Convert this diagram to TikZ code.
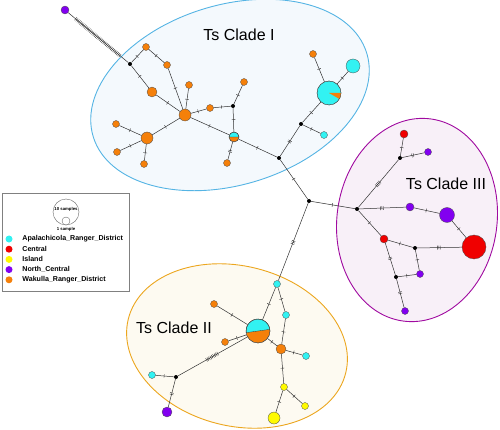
\documentclass[tikz,border=0pt]{standalone}
\usepackage{fontspec}
\setmainfont{Liberation Sans}
\usetikzlibrary{positioning}
\definecolor{apa}{RGB}{50,242,242}
\definecolor{cen}{RGB}{240,0,0}
\definecolor{isl}{RGB}{255,250,0}
\definecolor{nor}{RGB}{130,0,240}
\definecolor{wak}{RGB}{245,128,10}
\definecolor{edgegray}{RGB}{50,50,50}
\newcommand{\mutticks}[1]{\foreach \k in {1,...,#1}{\rule{0.4pt}{3.8pt}\hspace{1.2pt}}\hspace{-1.2pt}}
\tikzset{
  hap/.style={circle, draw=gray!60!black, line width=0.3pt, inner sep=0pt, minimum size=#1},
  mv/.style={circle, fill=black, inner sep=0pt, minimum size=4pt},
  edge/.style={draw=edgegray, line width=0.5pt},
  mut/.style={sloped, inner sep=0pt, text=edgegray},
  clade/.style={line width=0.9pt},
  cladelabel/.style={font=\fontsize{16}{18}\selectfont},
  legdot/.style={circle, inner sep=0pt, minimum size=7pt},
  legtext/.style={inner sep=0pt, font=\fontsize{7.1}{8}\selectfont\bfseries},
  legsmall/.style={inner sep=0pt, font=\fontsize{4.3}{5}\selectfont\bfseries}
}
\begin{document}
\begin{tikzpicture}[x=1pt, y=1pt]
  \useasboundingbox (0,-430) rectangle (500,0);
  % Clados
  \draw[clade, draw={rgb,255:red,85;green,180;blue,228}, fill={rgb,255:red,244;green,249;blue,253},
    rotate around={17:(230,-95)}] (230,-95) ellipse[x radius=143, y radius=90];
  \draw[clade, draw={rgb,255:red,160;green,10;blue,160}, fill={rgb,255:red,248;green,240;blue,248},
    rotate around={-8:(417,-220)}] (417,-220) ellipse[x radius=80, y radius=102];
  \draw[clade, draw={rgb,255:red,236;green,166;blue,30}, fill={rgb,255:red,253;green,250;blue,241},
    rotate around={-14:(237,-346)}] (237,-346) ellipse[x radius=112, y radius=80];
  \node[cladelabel] (labI) at (239,-35) {Ts Clade I};
  \node[cladelabel] (labIII) at (446,-184) {Ts Clade III};
  \node[cladelabel] (labII) at (174,-328) {Ts Clade II};
  % Haplotipos
  \foreach \n/\x/\y/\s/\c in {
    p1/65/-10/8pt/nor, o1/146/-47/7pt/wak, o2/167/-65/7pt/wak, o3/152/-92/10pt/wak,
    o4/189/-85/7pt/wak, h1/185/-115/12pt/wak, o5/210/-108/7pt/wak, o6/244/-82/7pt/wak,
    hc1/234/-137/10pt/wak, o7/227/-163/7pt/wak, h2/147/-138/12pt/wak, o8/116/-124/7pt/wak,
    o9/117/-152/7pt/wak, o10/144/-164/7pt/wak, c3/324/-135/7pt/apa, cb/329/-93/24pt/apa,
    c2/353/-66/14pt/apa, o11/313/-54/7pt/wak, r1/404/-134/8pt/cen, p2/428/-152/7pt/nor,
    p3/410/-207/8pt/nor, p4/447/-215/15pt/nor, r2/474/-247/24pt/cen, r3/384/-239/8pt/cen,
    p5/420/-274/7pt/nor, p6/405/-311/7pt/nor, c4/277/-284/7pt/apa, hc2/258/-331/24pt/wak,
    c5/286/-315/7pt/apa, o12/281/-349/10pt/wak, c6/306/-356/7pt/apa, y1/284/-387/7pt/isl,
    y2/305/-406/7pt/isl, y3/274/-418/12pt/isl, o13/214/-304/7pt/wak, o14/225/-342/7pt/wak,
    c7/152/-375/7pt/apa, p7/167/-412/10pt/nor}
    \node[hap=\s, fill=\c] (\n) at (\x,\y) {};
  % Fatias
  \fill[wak] (cb.center) -- +(0:12pt) arc[start angle=0, end angle=-30, radius=12pt] -- cycle;
  \draw[gray!60!black, line width=0.3pt] (cb.center) circle[radius=12pt];
  \filldraw[apa, draw=edgegray, line width=0.3pt] (hc1.center) -- +(0:5pt) arc[start angle=0, end angle=180, radius=5pt] -- cycle;
  \draw[gray!60!black, line width=0.3pt] (hc1.center) circle[radius=5pt];
  \filldraw[apa, draw=edgegray, line width=0.3pt] (hc2.center) -- +(8:12pt) arc[start angle=8, end angle=188, radius=12pt] -- cycle;
  \draw[gray!60!black, line width=0.3pt] (hc2.center) circle[radius=12pt];
  % Vetores medianos
  \foreach \n/\x/\y in {j1/130/-64, j2/233/-106, j3/279/-158, j4/301/-124, j5/309/-201,
    j6/357/-209, j7/400/-158, j8/415/-248, j9/396/-277, j10/176/-377}
    \node[mv] (\n) at (\x,\y) {};
  % Ligacoes
  \foreach \a/\b/\k in {
    p1/j1/37, j1/o1/1, o1/o2/1, j1/o3/1, o3/h1/1, o2/h1/1, o4/h1/1, h1/o5/1, o5/j2/1,
    j2/o6/1, j2/hc1/1, h1/hc1/1, hc1/o7/2, h1/h2/1, h2/o8/1, h2/o9/1, h2/o10/1,
    hc1/j3/1, j3/j4/2, j4/cb/1, cb/o11/1, cb/c2/1, j4/c3/1, j3/j5/1, j5/j6/1,
    j6/j7/4, j7/r1/1, j7/p2/2, j6/p3/3, p3/p4/1, p4/r2/1, j6/r3/1, r3/j8/1, j8/r2/3,
    j8/p5/1, r3/j9/2, j9/p5/1, j9/p6/2, j5/c4/3, c4/hc2/1, c4/c5/1, c5/o12/1,
    hc2/o12/1, o12/c6/1, o12/y1/1, y1/y2/1, y1/y3/1, hc2/o13/1, hc2/o14/1,
    hc2/j10/9, j10/c7/1, j10/p7/2}
    \draw[edge] (\a) -- node[mut] {\mutticks{\k}} (\b);
  % Legenda
  \draw[gray, line width=0.8pt] (2,-193) rectangle (129,-291);
  \node[hap=26pt, fill=white] (big) at (66,-212) {};
  \node[hap=8pt, fill=white] (small) at (66,-221) {};
  \node[legsmall] (bigtxt) at (66,-209) {10 samples};
  \node[legsmall] (smalltxt) at (66,-229) {1 sample};
  \foreach \c/\t [count=\i] in {apa/Apalachicola\_Ranger\_District, cen/Central, isl/Island,
    nor/North\_Central, wak/Wakulla\_Ranger\_District}
    \node[legdot, fill=\c] (leg\i) at (9,{-228.8-10.2*\i}) {}
      node[legtext, right=9.5pt of leg\i] {\t};
\end{tikzpicture}
\end{document}
